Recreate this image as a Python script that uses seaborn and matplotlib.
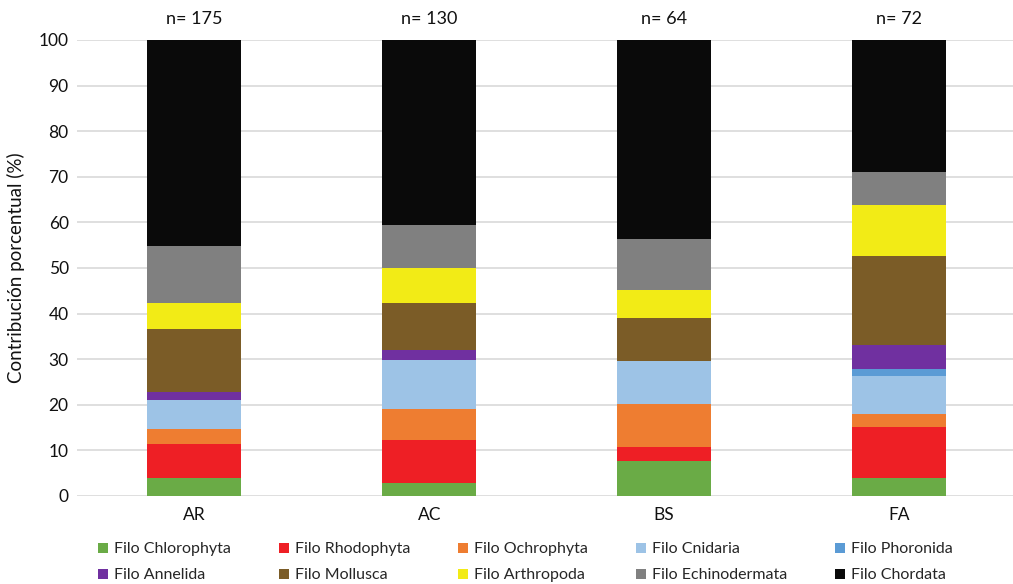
import matplotlib
matplotlib.use("Agg")
import matplotlib.pyplot as plt
import seaborn as sns
import pandas as pd
import numpy as np
from matplotlib.patches import Patch

sites = ["AR", "AC", "BS", "FA"]
n_labels = ["n= 175", "n= 130", "n= 64", "n= 72"]
phyla = ["Filo Chlorophyta", "Filo Rhodophyta", "Filo Ochrophyta", "Filo Cnidaria",
         "Filo Phoronida", "Filo Annelida", "Filo Mollusca", "Filo Arthropoda",
         "Filo Echinodermata", "Filo Chordata"]
chlorophyta = [4.0, 2.9, 7.7, 4.0]
rhodophyta = [7.5, 9.4, 3.1, 11.2]
ochrophyta = [3.2, 6.8, 9.4, 2.8]
cnidaria = [6.3, 10.8, 9.5, 8.4]
phoronida = [0.0, 0.0, 0.0, 1.5]
annelida = [1.8, 2.2, 0.0, 5.3]
mollusca = [13.8, 10.2, 9.3, 19.5]
arthropoda = [5.8, 7.7, 6.2, 11.2]
echinodermata = [12.4, 9.4, 11.1, 7.2]
chordata = [45.2, 40.6, 43.7, 28.9]
colors = ["#6aab46", "#ee1f25", "#ee7d31", "#9dc3e6", "#5b9bd5",
          "#7030a0", "#7b5c27", "#f2eb16", "#808080", "#0a0a0a"]

values = [chlorophyta, rhodophyta, ochrophyta, cnidaria, phoronida,
          annelida, mollusca, arthropoda, echinodermata, chordata]
df = pd.DataFrame({p: v for p, v in zip(phyla, values)}, index=sites)
cum = df.cumsum(axis=1)

sns.set_theme(style="white")
plt.rcParams['font.family'] = ['Lato', 'DejaVu Sans']

fig = plt.figure(figsize=(10.13, 5.84), dpi=100)
ax = fig.add_axes([77/1013, 88/584, (1013-77)/1013, 456/584])

for p, c in reversed(list(zip(phyla, colors))):
    d = pd.DataFrame({"site": sites, "val": cum[p].values})
    sns.barplot(data=d, x="site", y="val", color=c, width=0.4, ax=ax,
                saturation=1, linewidth=0, zorder=3)

ax.set_ylim(0, 100)
ax.set_xlim(-0.5, 3.5 + (1013 - 1016.5) / 235)
ax.set_yticks(range(0, 101, 10))
ax.yaxis.grid(True, color="#d9d9d9", linewidth=1.2, zorder=0)
ax.set_axisbelow(True)
for s in ax.spines.values():
    s.set_visible(False)
ax.tick_params(axis="both", length=0, labelsize=12.5, colors="#111111", pad=6)
ax.tick_params(axis="x", pad=8)
ax.set_xlabel("")
ax.set_ylabel("Contribución porcentual (%)", fontsize=13.5, color="#111111", labelpad=10)

for i, t in enumerate(n_labels):
    ax.text(i, 104.5, t, ha="center", va="center", fontsize=13, color="#111111")

# row-major legend order (matplotlib fills columns first)
order = [0, 5, 1, 6, 2, 7, 3, 8, 4, 9]
handles = [Patch(facecolor=colors[k], edgecolor="none") for k in order]
labels = [phyla[k] for k in order]
fig.legend(handles, labels, ncol=5, loc="lower center", bbox_to_anchor=(0.519, -0.022),
           frameon=False, fontsize=11.5, handlelength=0.6, handleheight=0.6,
           handletextpad=0.4, columnspacing=3.0, labelspacing=0.75)

fig.savefig("out.png", dpi=100)
